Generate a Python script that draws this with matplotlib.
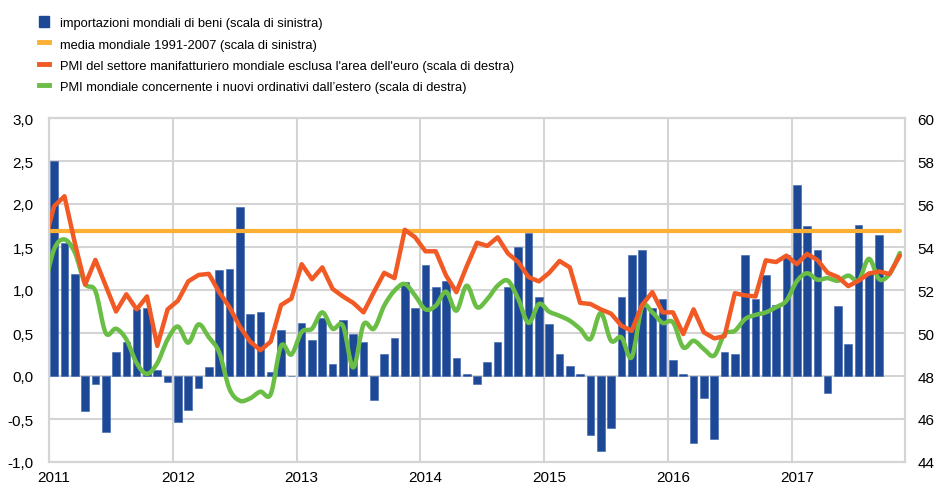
import matplotlib
matplotlib.use("Agg")
import matplotlib.pyplot as plt
from matplotlib.patches import Patch, PathPatch
from matplotlib.lines import Line2D
from matplotlib.path import Path
from matplotlib.ticker import FixedLocator, FuncFormatter

plt.rcParams["font.family"] = ["Liberation Sans", "DejaVu Sans"]

# monthly data, month index 0 = Jan 2011
years = ["2011", "2012", "2013", "2014", "2015", "2016", "2017"]

# world imports of goods, Jan 2011 - Sep 2017 (left scale)
imports = [
    2.50, 1.55, 1.19, -0.41, -0.09, -0.65, 0.275, 0.39, 0.78, 0.79, 0.07, -0.065,
    -0.53, -0.39, -0.135, 0.10, 1.23, 1.25, 1.97, 0.72, 0.74, 0.05, 0.535, 0.0,
    0.62, 0.42, 0.68, 0.14, 0.65, 0.49, 0.39, -0.275, 0.255, 0.44, 1.09, 0.79,
    1.295, 1.04, 1.11, 0.21, 0.02, -0.09, 0.16, 0.39, 1.03, 1.50, 1.66, 0.92,
    0.60, 0.255, 0.12, 0.02, -0.69, -0.87, -0.60, 0.92, 1.41, 1.46, 0.79, 0.90,
    0.185, 0.02, -0.78, -0.255, -0.735, 0.275, 0.255, 1.41, 0.90, 1.18, 0.82, 1.41,
    2.22, 1.74, 1.46, -0.20, 0.81, 0.375, 1.76, 1.19, 1.64,
]

# world average 1991-2007 (left scale)
avg_1991_2007 = 1.69

# PMI series, Dec 2010 - Nov 2017 (right scale)
pmi_manuf = [
    54.1,
    55.9, 56.36, 54.2, 52.25, 53.4, 52.2, 51.0, 51.8, 51.1, 51.7, 49.4, 51.1,
    51.5, 52.4, 52.7, 52.75, 51.9, 51.2, 50.3, 49.6, 49.2, 49.6, 51.3, 51.6,
    53.2, 52.5, 53.05, 52.05, 51.7, 51.4, 50.96, 51.9, 52.8, 52.55, 54.8, 54.45,
    53.8, 53.8, 52.67, 51.9, 53.1, 54.2, 54.05, 54.45, 53.7, 53.3, 52.6, 52.4,
    52.8, 53.35, 53.05, 51.4, 51.35, 51.1, 50.9, 50.34, 50.1, 51.3, 51.9, 50.96,
    50.96, 49.95, 51.1, 50.03, 49.75, 49.85, 51.85, 51.75, 51.7, 53.38, 53.3, 53.6,
    53.2, 53.68, 53.4, 52.8, 52.6, 52.18, 52.43, 52.77, 52.86, 52.74, 53.6,
]
pmi_export = [
    52.0,
    53.9, 54.35, 53.75, 52.3, 51.95, 50.0, 50.2, 49.7, 48.6, 48.1, 48.6, 49.7,
    50.3, 49.55, 50.4, 49.8, 49.1, 47.4, 46.85, 46.96, 47.27, 47.16, 49.4, 49.0,
    50.05, 50.2, 50.96, 50.2, 50.34, 48.4, 50.4, 50.2, 51.27, 51.97, 52.28, 51.74,
    51.1, 51.27, 51.92, 51.04, 52.2, 51.2, 51.58, 52.2, 52.43, 51.58, 50.47, 51.35,
    50.99, 50.8, 50.57, 50.19, 49.72, 50.93, 49.64, 49.8, 48.87, 51.2, 50.96, 50.47,
    50.5, 49.33, 49.64, 49.25, 48.95, 49.95, 50.1, 50.65, 50.84, 50.96, 51.2, 51.5,
    52.4, 52.78, 52.48, 52.55, 52.43, 52.67, 52.45, 53.45, 52.5, 52.75, 53.72,
]

labels = [
    "importazioni mondiali di beni (scala di sinistra)",
    "media mondiale 1991-2007 (scala di sinistra)",
    "PMI del settore manifatturiero mondiale esclusa l'area dell'euro (scala di destra)",
    "PMI mondiale concernente i nuovi ordinativi dall\u2019estero (scala di destra)",
]

BLUE = "#1c4896"
YELLOW = "#fbb034"
RED = "#f15a24"
GREEN = "#6abd45"
GRID = "#d4d4d4"

bar_x = list(range(len(imports)))
line_x = list(range(-1, len(pmi_manuf) - 1))


def smooth_path(xs, ys):
    # Bezier path through the data points (like a spreadsheet "smoothed line")
    pts = list(zip(xs, ys))
    verts = [pts[0]]
    codes = [Path.MOVETO]
    n = len(pts)
    for i in range(n - 1):
        p0 = pts[max(i - 1, 0)]
        p1 = pts[i]
        p2 = pts[i + 1]
        p3 = pts[min(i + 2, n - 1)]
        c1 = (p1[0] + (p2[0] - p0[0]) / 6, p1[1] + (p2[1] - p0[1]) / 6)
        c2 = (p2[0] - (p3[0] - p1[0]) / 6, p2[1] - (p3[1] - p1[1]) / 6)
        verts += [c1, c2, p2]
        codes += [Path.CURVE4] * 3
    return Path(verts, codes)


fig = plt.figure(figsize=(9.37, 4.89), dpi=100)
ax = fig.add_axes([49 / 937, 1 - 463 / 489, (905 - 49) / 937, (463 - 119) / 489])
ax2 = ax.twinx()

ax.bar(bar_x, imports, width=0.74, color=BLUE, edgecolor="#3a64ad", linewidth=0.4, zorder=2)
ax.plot(line_x, [avg_1991_2007] * len(line_x), color=YELLOW, lw=3.0, zorder=3,
        solid_capstyle="round")
ax2.plot(line_x, pmi_manuf, color=RED, lw=3.2, solid_joinstyle="round", solid_capstyle="round")
ax2.add_patch(PathPatch(smooth_path(line_x, pmi_export), fill=False, edgecolor=GREEN,
                        lw=3.2, capstyle="round", joinstyle="round"))

ax.set_xlim(-0.5, 82.5)
ax.set_ylim(-1.0, 3.0)
ax2.set_ylim(44, 60)

ax.set_yticks([-1.0 + 0.5 * i for i in range(9)])
ax.yaxis.set_major_formatter(FuncFormatter(lambda v, p: f"{v:.1f}".replace(".", ",")))
ax2.set_yticks(list(range(44, 61, 2)))

ax.set_xticks([12 * i for i in range(len(years))])
ax.set_xticklabels(years)
ax.xaxis.set_minor_locator(FixedLocator([12 * i - 0.5 for i in range(len(years))]))

ax.grid(axis="y", which="major", color=GRID, lw=1.5, zorder=0)
ax.grid(axis="x", which="minor", color=GRID, lw=1.5, zorder=0)
ax.set_axisbelow(True)

for a in (ax, ax2):
    for s in a.spines.values():
        s.set_color(GRID)
        s.set_linewidth(1.5)
ax.tick_params(axis="both", which="both", length=0, labelsize=11, colors="#000000")
ax.tick_params(axis="y", pad=11)
ax.tick_params(axis="x", pad=6)
ax2.tick_params(axis="y", length=0, labelsize=11, pad=9)

handles = [
    Patch(facecolor=BLUE, edgecolor=BLUE),
    Line2D([0], [0], color=YELLOW, lw=3.5),
    Line2D([0], [0], color=RED, lw=3.5),
    Line2D([0], [0], color=GREEN, lw=3.5),
]
fig.legend(handles, labels, loc="upper left", bbox_to_anchor=(35 / 937, 1 - 13 / 489),
           frameon=False, fontsize=9.3, handlelength=0.8, handleheight=1.0,
           handletextpad=0.85, labelspacing=0.64, borderaxespad=0, borderpad=0.3)

fig.savefig("out.png", dpi=100)
